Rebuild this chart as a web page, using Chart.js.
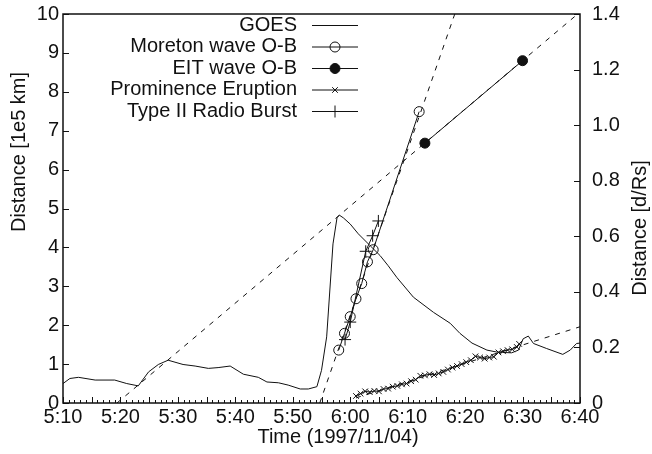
<!DOCTYPE html>
<html lang="en">
<head>
<meta charset="UTF-8" />
<title>Distance vs time</title>
<style>
  html, body { margin: 0; padding: 0; background: #fff; }
  canvas { display: block; }
</style>
</head>
<body>
<canvas id="myChart" width="652" height="454"></canvas>
<script src="https://cdn.jsdelivr.net/npm/chart.js@4.4.1/dist/chart.umd.min.js"></script>
<script>
// times are minutes of the day (UT): 5:10 -> 310, 6:40 -> 400
var goesTime = [310, 311.2, 312.7, 315.6, 319, 321.1, 323.1, 324.9, 326.6, 328.3, 330.9, 333, 335.3, 337, 339.1,
  341.4, 344, 345.5, 347.5, 349.2, 351.3, 352.7, 354.2, 355, 355.9, 357, 357.7, 358.1, 358.8, 360, 361.4, 363.5,
  365.2, 366.6, 368.1, 371, 374.5, 377.4, 379.1, 381.2, 383.8, 385.5, 386.5, 388.1, 389.3, 390.1, 391, 391.9,
  394.2, 397, 398.3, 399.4, 400];
var goesLevel = [0.50, 0.63, 0.66, 0.59, 0.59, 0.50, 0.44, 0.80, 0.99, 1.10, 0.99, 0.95, 0.89, 0.91, 0.95,
  0.74, 0.66, 0.54, 0.52, 0.46, 0.36, 0.36, 0.42, 0.84, 1.70, 4.09, 4.76, 4.83, 4.76, 4.60, 4.35, 4.04,
  3.79, 3.53, 3.23, 2.72, 2.33, 2.05, 1.79, 1.54, 1.36, 1.31, 1.30, 1.29, 1.36, 1.65, 1.72, 1.53,
  1.40, 1.25, 1.36, 1.53, 1.54];

var moretonTime = [358, 359, 360, 361, 362, 363, 364, 372];
var moretonDist = [1.36, 1.79, 2.22, 2.68, 3.07, 3.63, 3.94, 7.49];

var eitTime = [373, 390];
var eitDist = [6.68, 8.80];

var promTime = [361, 361.8, 362.6, 363.4, 364.2, 365, 365.8, 366.6, 367.4, 368.2, 369, 369.8, 370.6, 371.4,
  372.2, 373, 373.8, 374.6, 375.4, 376.2, 377, 377.8, 378.6, 379.4, 380.2, 381, 381.8, 382.6, 383.4, 384.2,
  385, 385.8, 386.6, 387.4, 388.2, 389, 389.4];
var promDist = [0.18, 0.24, 0.30, 0.28, 0.31, 0.30, 0.36, 0.37, 0.42, 0.44, 0.48, 0.50, 0.56, 0.60,
  0.70, 0.71, 0.74, 0.72, 0.76, 0.80, 0.86, 0.91, 0.95, 1.00, 1.05, 1.10, 1.20, 1.17, 1.14, 1.17,
  1.19, 1.30, 1.33, 1.36, 1.38, 1.44, 1.52];

var typeIITime = [359.1, 360, 362.7, 363.9, 364.9];
var typeIIDist = [1.63, 2.08, 3.90, 4.30, 4.68];

// dashed fit lines (end points)
var eitFitTime = [319.4, 400];
var eitFitDist = [0, 10.05];
var moretonFitTime = [354.7, 378.2];
var moretonFitDist = [0, 10];
var promFitTime = [361, 400];
var promFitDist = [0.13, 1.96];

var xTickLabels = ["5:10", "5:20", "5:30", "5:40", "5:50", "6:00", "6:10", "6:20", "6:30", "6:40"];

var FONT = '"Liberation Sans", Arial, Helvetica, sans-serif';
var INK = "#111";

function pts(xs, ys) {
  return xs.map(function (x, i) { return { x: x, y: ys[i] }; });
}

function series(label, xs, ys, extra) {
  var d = {
    label: label,
    data: pts(xs, ys),
    showLine: true,
    borderColor: INK,
    borderWidth: 1,
    pointRadius: 0,
    pointBorderColor: INK,
    pointBackgroundColor: "rgba(0,0,0,0)",
    pointBorderWidth: 1,
    yAxisID: "y"
  };
  for (var k in extra) d[k] = extra[k];
  return d;
}

var datasets = [
  series("GOES", goesTime, goesLevel, { inLegend: true }),
  series("Moreton wave O-B", moretonTime, moretonDist, { inLegend: true, pointStyle: "circle", pointRadius: 5 }),
  series("EIT wave O-B", eitTime, eitDist, { inLegend: true, pointStyle: "circle", pointRadius: 5, pointBackgroundColor: INK }),
  series("Prominence Eruption", promTime, promDist, { inLegend: true, pointStyle: "crossRot", pointRadius: 4 }),
  series("Type II Radio Burst", typeIITime, typeIIDist, { inLegend: true, pointStyle: "cross", pointRadius: 6 }),
  series("EIT fit", eitFitTime, eitFitDist, { borderDash: [5, 6] }),
  series("Moreton fit", moretonFitTime, moretonFitDist, { borderDash: [5, 6] }),
  series("Prominence fit", promFitTime, promFitDist, { borderDash: [5, 6] })
];

// little marker for the legend samples
function drawMarker(ctx, ds, x, y) {
  var r = ds.pointRadius;
  if (!r) return;
  ctx.beginPath();
  if (ds.pointStyle === "circle") {
    ctx.arc(x, y, r, 0, Math.PI * 2);
    if (ds.pointBackgroundColor !== "rgba(0,0,0,0)") { ctx.fillStyle = ds.pointBackgroundColor; ctx.fill(); }
    ctx.stroke();
  } else if (ds.pointStyle === "cross") {
    ctx.moveTo(x - r, y); ctx.lineTo(x + r, y);
    ctx.moveTo(x, y - r); ctx.lineTo(x, y + r);
    ctx.stroke();
  } else if (ds.pointStyle === "crossRot") {
    var d = r * 0.707;
    ctx.moveTo(x - d, y - d); ctx.lineTo(x + d, y + d);
    ctx.moveTo(x + d, y - d); ctx.lineTo(x - d, y + d);
    ctx.stroke();
  }
}

var decorations = {
  id: "decorations",
  afterDatasetsDraw: function (chart) {
    var ctx = chart.ctx, a = chart.chartArea;
    var xs = chart.scales.x, yl = chart.scales.y, yr = chart.scales.y2;
    ctx.save();
    ctx.strokeStyle = INK;
    ctx.lineWidth = 1;
    ctx.setLineDash([]);

    // inward ticks
    ctx.beginPath();
    for (var m = 310; m <= 400; m++) {
      var px = Math.round(xs.getPixelForValue(m)) + 0.5;
      var len = m % 5 === 0 ? 6 : 3;
      ctx.moveTo(px, a.bottom); ctx.lineTo(px, a.bottom - len);
    }
    yl.ticks.forEach(function (t) {
      var py = Math.round(yl.getPixelForValue(t.value)) + 0.5;
      ctx.moveTo(a.left, py); ctx.lineTo(a.left + 6, py);
    });
    yr.ticks.forEach(function (t) {
      var py = Math.round(yr.getPixelForValue(t.value)) + 0.5;
      ctx.moveTo(a.right, py); ctx.lineTo(a.right - 6, py);
    });
    ctx.stroke();

    // frame
    ctx.lineWidth = 1.5;
    ctx.strokeRect(a.left, a.top, a.right - a.left, a.bottom - a.top);

    // axis titles
    ctx.fillStyle = INK;
    ctx.font = "20px " + FONT;
    ctx.textAlign = "center";
    ctx.textBaseline = "middle";
    ctx.fillText("Time (1997/11/04)", 338, 437);
    ctx.save();
    ctx.translate(19, 152);
    ctx.rotate(-Math.PI / 2);
    ctx.fillText("Distance [1e5 km]", 0, 0);
    ctx.restore();
    ctx.save();
    ctx.translate(640, 228);
    ctx.rotate(-Math.PI / 2);
    ctx.fillText("Distance [d/Rs]", 0, 0);
    ctx.restore();

    // legend: text right aligned, sample on the right
    ctx.textAlign = "right";
    var row = 0;
    chart.data.datasets.forEach(function (ds) {
      if (!ds.inLegend) return;
      var y = 25 + row * 21.5;
      ctx.fillStyle = INK;
      ctx.fillText(ds.label, 297, y);
      ctx.lineWidth = 1;
      ctx.beginPath();
      ctx.moveTo(312, y + 0.5); ctx.lineTo(358, y + 0.5);
      ctx.stroke();
      drawMarker(ctx, ds, 335, y + 0.5);
      row++;
    });
    ctx.restore();
  }
};

var ctx = document.getElementById("myChart");
var myChart = new Chart(ctx, {
  type: "scatter",
  data: { datasets: datasets },
  options: {
    responsive: false,
    animation: false,
    devicePixelRatio: 1,
    layout: { padding: { top: 0, right: 0, bottom: 0, left: 0 } },
    plugins: { legend: { display: false }, tooltip: { enabled: false } },
    scales: {
      x: {
        type: "linear",
        position: "bottom",
        min: 310,
        max: 400,
        grid: { display: false },
        border: { display: false },
        afterFit: function (s) { s.height = 51; },
        ticks: {
          stepSize: 10,
          padding: -6,
          color: INK,
          font: { family: FONT, size: 20 },
          maxRotation: 0,
          callback: function (v) { return xTickLabels[Math.round((v - 310) / 10)]; }
        }
      },
      y: {
        position: "left",
        min: 0,
        max: 10,
        grid: { display: false },
        border: { display: false },
        afterFit: function (s) { s.width = 63; },
        ticks: { stepSize: 1, padding: -4, color: INK, font: { family: FONT, size: 20, lineHeight: 1.0 } }
      },
      y2: {
        position: "right",
        min: 0,
        max: 1.4,
        grid: { display: false },
        border: { display: false },
        afterFit: function (s) { s.width = 72; },
        ticks: {
          stepSize: 0.2,
          padding: 4,
          color: INK,
          font: { family: FONT, size: 20, lineHeight: 1.0 },
          callback: function (v) { return v === 0 ? "0" : v.toFixed(1); }
        }
      }
    }
  },
  plugins: [decorations]
});
</script>
</body>
</html>
